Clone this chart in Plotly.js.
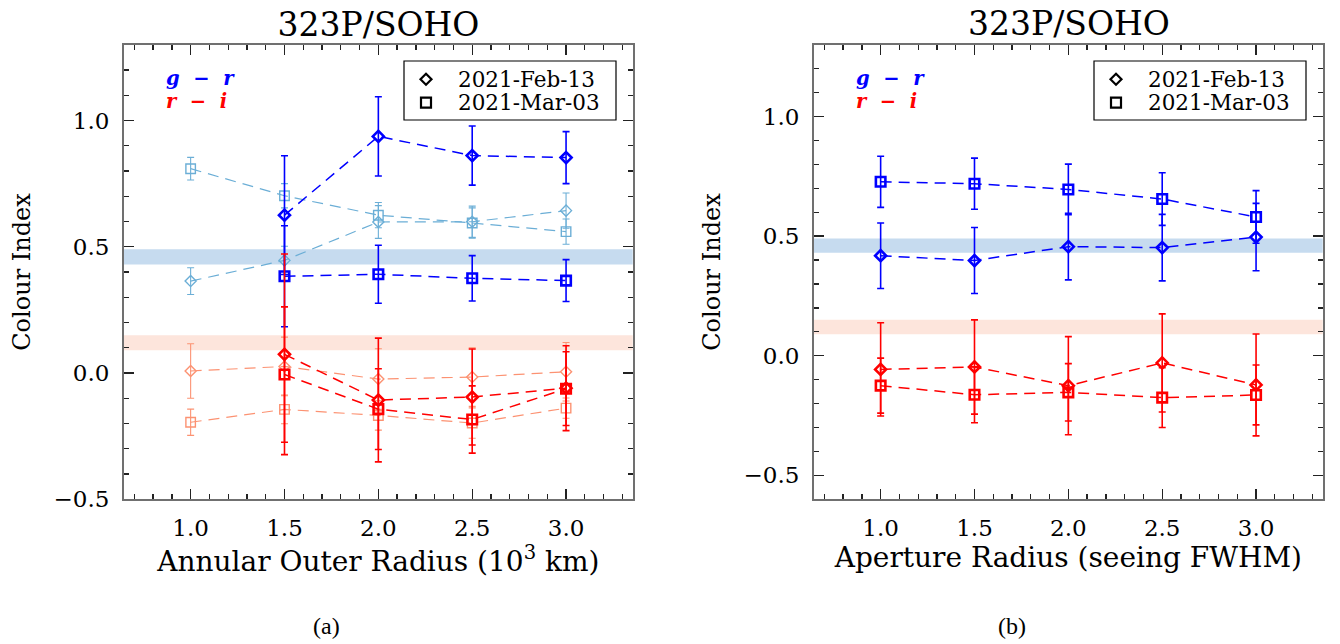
<!DOCTYPE html>
<html>
<head>
<meta charset="utf-8">
<script src="https://cdn.plot.ly/plotly-3.0.1.min.js"></script>
<style>html,body{margin:0;padding:0;background:#fff;}</style>
</head>
<body>
<div id="chart" style="width:1340px;height:644px;"></div>
<script>
// ---------- data ----------
const radius = [1.0, 1.5, 2.0, 2.5, 3.0];

// Panel (a): annular outer radius (10^3 km)
// faded series
const a_gr_feb_light = [0.364, 0.446, 0.598, 0.599, 0.643];
const a_gr_feb_light_err = [0.053, 0.056, 0.065, 0.062, 0.070];
const a_gr_mar_light = [0.809, 0.702, 0.625, 0.594, 0.560];
const a_gr_mar_light_err = [0.045, 0.048, 0.050, 0.060, 0.050];
const a_ri_feb_light = [0.008, 0.026, -0.024, -0.016, 0.005];
const a_ri_feb_light_err = [0.108, 0.116, 0.120, 0.116, 0.116];
const a_ri_mar_light = [-0.195, -0.144, -0.168, -0.198, -0.139];
const a_ri_mar_light_err = [0.052, 0.057, 0.058, 0.060, 0.040];
// strong series
const a_gr_feb = [null, 0.625, 0.937, 0.861, 0.853];
const a_gr_feb_err = [null, 0.235, 0.157, 0.117, 0.103];
const a_gr_mar = [null, 0.383, 0.391, 0.375, 0.366];
const a_gr_mar_err = [null, 0.200, 0.115, 0.090, 0.083];
const a_ri_feb = [null, 0.074, -0.107, -0.095, -0.060];
const a_ri_feb_err = [null, 0.397, 0.245, 0.190, 0.168];
const a_ri_mar = [null, -0.006, -0.143, -0.184, -0.062];
const a_ri_mar_err = [null, 0.268, 0.160, 0.133, 0.146];

// Panel (b): aperture radius (seeing FWHM)
const b_gr_feb = [0.418, 0.398, 0.456, 0.452, 0.496];
const b_gr_feb_err = [0.137, 0.138, 0.139, 0.139, 0.141];
const b_gr_mar = [0.727, 0.719, 0.695, 0.655, 0.580];
const b_gr_mar_err = [0.107, 0.107, 0.106, 0.110, 0.110];
const b_ri_feb = [-0.057, -0.047, -0.125, -0.030, -0.122];
const b_ri_feb_err = [0.195, 0.197, 0.205, 0.205, 0.213];
const b_ri_mar = [-0.125, -0.163, -0.153, -0.175, -0.164];
const b_ri_mar_err = [0.115, 0.117, 0.120, 0.125, 0.125];

// solar colour bands
const solarGR = [0.43, 0.49];
const solarRI = [0.09, 0.15];

const dates = ['2021-Feb-13', '2021-Mar-03'];
const titleText = '323P/SOHO';

// ---------- styling ----------
const BLUE = '#0000ff', RED = '#ff0000', LBLUE = '#6baed6', LRED = '#fc9272';
const SERIF = 'DejaVu Serif';
const W = 1340, H = 644;
function px(v) { return v / W; }
function py(v) { return 1 - v / H; }

function series(y, err, color, symbol, strong, xa, ya, name) {
  return {
    type: 'scatter', mode: 'lines+markers', x: radius, y: y,
    xaxis: xa, yaxis: ya, name: name, showlegend: false,
    line: {color: color, width: strong ? 1.5 : 1.2, dash: '11px,7px'},
    marker: {symbol: symbol, color: color, size: symbol === 'diamond-open' ? 8.5 : 9.5,
             line: {color: color, width: strong ? 2.6 : 1.4}},
    error_y: {type: 'data', array: err, visible: true, color: color,
              thickness: strong ? 1.6 : 1.1, width: 3.5}
  };
}

const traces = [
  series(a_gr_feb_light, a_gr_feb_light_err, LBLUE, 'diamond-open', false, 'x', 'y', 'g−r ' + dates[0] + ' (faded)'),
  series(a_gr_mar_light, a_gr_mar_light_err, LBLUE, 'square-open', false, 'x', 'y', 'g−r ' + dates[1] + ' (faded)'),
  series(a_ri_feb_light, a_ri_feb_light_err, LRED, 'diamond-open', false, 'x', 'y', 'r−i ' + dates[0] + ' (faded)'),
  series(a_ri_mar_light, a_ri_mar_light_err, LRED, 'square-open', false, 'x', 'y', 'r−i ' + dates[1] + ' (faded)'),
  series(a_gr_feb, a_gr_feb_err, BLUE, 'diamond-open', true, 'x', 'y', 'g−r ' + dates[0]),
  series(a_gr_mar, a_gr_mar_err, BLUE, 'square-open', true, 'x', 'y', 'g−r ' + dates[1]),
  series(a_ri_feb, a_ri_feb_err, RED, 'diamond-open', true, 'x', 'y', 'r−i ' + dates[0]),
  series(a_ri_mar, a_ri_mar_err, RED, 'square-open', true, 'x', 'y', 'r−i ' + dates[1]),
  series(b_gr_feb, b_gr_feb_err, BLUE, 'diamond-open', true, 'x2', 'y2', 'g−r ' + dates[0]),
  series(b_gr_mar, b_gr_mar_err, BLUE, 'square-open', true, 'x2', 'y2', 'g−r ' + dates[1]),
  series(b_ri_feb, b_ri_feb_err, RED, 'diamond-open', true, 'x2', 'y2', 'r−i ' + dates[0]),
  series(b_ri_mar, b_ri_mar_err, RED, 'square-open', true, 'x2', 'y2', 'r−i ' + dates[1])
];

function xaxisDef(domain, title, anchor) {
  return {
    domain: domain, anchor: anchor, range: [0.645, 3.355], tick0: 0, dtick: 0.5, tickformat: '.1f',
    ticks: 'inside', ticklen: 10, tickwidth: 1.3, tickcolor: '#222',
    minor: {dtick: 0.1, ticks: 'inside', ticklen: 5, tickwidth: 1.3, tickcolor: '#222'},
    showline: true, linecolor: '#707070', linewidth: 2, mirror: 'allticks',
    showgrid: false, zeroline: false, automargin: false,
    tickfont: {family: SERIF, size: 23, color: '#000'}, ticklabelstandoff: 7,
    title: {text: title, font: {family: SERIF, size: 28, color: '#000'}, standoff: 5}
  };
}
function yaxisDef(range, anchor) {
  return {
    domain: [py(499.3), py(44.7)], anchor: anchor, range: range, tick0: 0, dtick: 0.5, tickformat: '.1f',
    ticks: 'inside', ticklen: 10, tickwidth: 1.3, tickcolor: '#222',
    minor: {dtick: 0.1, ticks: 'inside', ticklen: 5, tickwidth: 1.3, tickcolor: '#222'},
    showline: true, linecolor: '#707070', linewidth: 2, mirror: 'allticks',
    showgrid: false, zeroline: false, automargin: false,
    tickfont: {family: SERIF, size: 23, color: '#000'}, ticklabelstandoff: 8,
    title: {text: 'Colour Index', font: {family: SERIF, size: 24, color: '#000'}, standoff: 16}
  };
}

function band(r, color, xa, ya) {
  return {type: 'rect', xref: xa + ' domain', yref: ya, x0: 0, x1: 1, y0: r[0], y1: r[1],
          fillcolor: color, line: {width: 0}, layer: 'below'};
}

// legend key drawn as a framed box with symbols + text
function legendShapes(left) {
  const right = left + 212, top = 61, bottom = 120;
  const sx = left + 22, r1 = 79.3, r2 = 102.7;
  const d = 5.5, s = 5;
  return [
    {type: 'rect', xref: 'paper', yref: 'paper', x0: px(left), x1: px(right), y0: py(bottom), y1: py(top),
     fillcolor: '#fff', line: {color: '#000', width: 1.2}},
    {type: 'path', xref: 'paper', yref: 'paper',
     path: 'M ' + px(sx) + ',' + py(r1 - d) + ' L ' + px(sx + d) + ',' + py(r1) + ' L ' + px(sx) + ',' + py(r1 + d) +
           ' L ' + px(sx - d) + ',' + py(r1) + ' Z',
     line: {color: '#000', width: 2.2}},
    {type: 'rect', xref: 'paper', yref: 'paper', x0: px(sx - s), x1: px(sx + s), y0: py(r2 + s), y1: py(r2 - s),
     line: {color: '#000', width: 2.2}}
  ];
}
function legendTexts(left) {
  return dates.map(function (t, i) {
    return {text: t, xref: 'paper', yref: 'paper', x: px(left + 52), y: py(i === 0 ? 79.3 : 102.7),
            xanchor: 'left', yanchor: 'middle', showarrow: false,
            font: {family: SERIF, size: 21.5, color: '#000'}};
  });
}

const NB = '\u00a0';
function colourLabels(xLeft) {
  return [
    {text: 'g' + NB + ' −' + NB + ' r', xref: 'paper', yref: 'paper', x: px(xLeft), y: py(78.5),
     xanchor: 'left', yanchor: 'middle', showarrow: false,
     font: {family: SERIF, size: 19.5, color: BLUE, style: 'italic', weight: 'bold'}},
    {text: 'r' + NB + ' −' + NB + ' i', xref: 'paper', yref: 'paper', x: px(xLeft), y: py(101.5),
     xanchor: 'left', yanchor: 'middle', showarrow: false,
     font: {family: SERIF, size: 19.5, color: RED, style: 'italic', weight: 'bold'}}
  ];
}

const layout = {
  width: W, height: H, margin: {l: 0, r: 0, t: 0, b: 0},
  paper_bgcolor: '#fff', plot_bgcolor: '#fff', showlegend: false,
  title: {text: titleText, x: px(378.5), xanchor: 'center', xref: 'paper', y: py(24), yanchor: 'middle', yref: 'paper',
          font: {family: SERIF, size: 33, color: '#000'}},
  xaxis: xaxisDef([px(124), px(632.7)], 'Annular Outer Radius (10<sup>3</sup> km)', 'y'),
  yaxis: yaxisDef([-0.5, 1.3], 'x'),
  xaxis2: xaxisDef([px(814), px(1322.7)], 'Aperture Radius (seeing FWHM)', 'y2'),
  yaxis2: yaxisDef([-0.6, 1.3], 'x2'),
  shapes: [
    band(solarGR, '#c6dbef', 'x', 'y'), band(solarRI, '#fde5dc', 'x', 'y'),
    band(solarGR, '#c6dbef', 'x2', 'y2'), band(solarRI, '#fde5dc', 'x2', 'y2')
  ].concat(legendShapes(404)).concat(legendShapes(1094)),
  annotations: [
    {text: titleText, xref: 'paper', yref: 'paper', x: px(1068.5), y: py(24), xanchor: 'center', yanchor: 'middle',
     showarrow: false, font: {family: SERIF, size: 33, color: '#000'}},
    {text: '(a)', xref: 'paper', yref: 'paper', x: px(326), y: py(626), xanchor: 'center', yanchor: 'middle',
     showarrow: false, font: {family: 'Liberation Serif', size: 24, color: '#000'}},
    {text: '(b)', xref: 'paper', yref: 'paper', x: px(1012), y: py(626), xanchor: 'center', yanchor: 'middle',
     showarrow: false, font: {family: 'Liberation Serif', size: 24, color: '#000'}}
  ].concat(colourLabels(164)).concat(colourLabels(854))
   .concat(legendTexts(404)).concat(legendTexts(1094))
};

Plotly.newPlot('chart', traces, layout, {displayModeBar: false, staticPlot: true});
</script>
</body>
</html>
